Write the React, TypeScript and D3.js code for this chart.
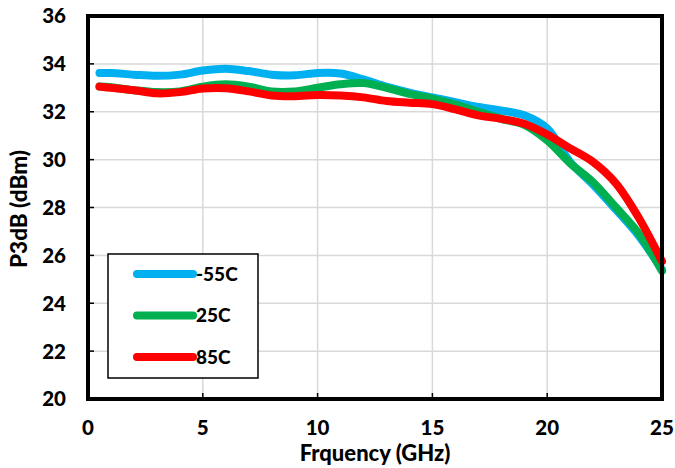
import React from "react";
import * as d3 from "d3";

const freqs = [0.5, 1, 2, 3, 4, 5, 6, 7, 8, 9, 10, 11, 12, 13, 14, 15, 16, 17, 18, 19, 20, 21, 22, 23, 24, 25];
const m55 = [33.62, 33.62, 33.55, 33.5, 33.55, 33.72, 33.8, 33.7, 33.55, 33.52, 33.62, 33.6, 33.35, 33.05, 32.8, 32.6, 32.4, 32.2, 32.05, 31.85, 31.3, 29.9, 28.95, 27.9, 26.8, 25.4];
const p25 = [33.05, 33.02, 32.9, 32.82, 32.85, 33.05, 33.15, 33.05, 32.85, 32.85, 33.0, 33.15, 33.2, 33.0, 32.75, 32.55, 32.3, 32.0, 31.7, 31.45, 30.8, 29.85, 29.05, 28.0, 26.9, 25.35];
const p85 = [33.05, 33.0, 32.9, 32.77, 32.82, 32.97, 32.98, 32.85, 32.68, 32.65, 32.7, 32.68, 32.6, 32.45, 32.38, 32.32, 32.1, 31.85, 31.7, 31.5, 31.05, 30.47, 29.9, 29.0, 27.55, 25.75];
const seriesNames = ["-55C", "25C", "85C"];
const seriesColors = ["#00B0F0", "#00B050", "#FF0000"];
const xTicks = [0, 5, 10, 15, 20, 25];
const yTicks = [20, 22, 24, 26, 28, 30, 32, 34, 36];

export default function App() {
  const W = 675, H = 468;
  const L = 88, R = 662, T = 16, B = 399;
  const x = d3.scaleLinear().domain([0, 25]).range([L, R]);
  const y = d3.scaleLinear().domain([20, 36]).range([B, T]);
  const line = d3.line<[number, number]>().x(d => x(d[0])).y(d => y(d[1])).curve(d3.curveCatmullRom.alpha(0.5));
  const all = [m55, p25, p85];
  const font = "Lato, 'Open Sans', sans-serif";
  return (
    <svg width={W} height={H} style={{ position: "absolute", left: 0, top: 0 }} fontFamily={font}>
      <rect width={W} height={H} fill="#fff" />
      {xTicks.slice(1, -1).map(t => (
        <line key={"gx" + t} x1={x(t)} x2={x(t)} y1={T} y2={B} stroke="#d9d9d9" strokeWidth={1.5} />
      ))}
      {yTicks.slice(1, -1).map(t => (
        <line key={"gy" + t} x1={L} x2={R} y1={y(t)} y2={y(t)} stroke="#d9d9d9" strokeWidth={1.5} />
      ))}
      {xTicks.map(t => (
        <line key={"tx" + t} x1={x(t)} x2={x(t)} y1={B} y2={B - 6} stroke="#000" strokeWidth={1.5} />
      ))}
      {yTicks.map(t => (
        <line key={"ty" + t} x1={L} x2={L + 6} y1={y(t)} y2={y(t)} stroke="#000" strokeWidth={1.5} />
      ))}
      {all.map((s, i) => (
        <path key={i} d={line(freqs.map((f, j) => [f, s[j]] as [number, number])) || ""} fill="none"
          stroke={seriesColors[i]} strokeWidth={8} strokeLinecap="round" strokeLinejoin="round" />
      ))}
      <rect x={L} y={T} width={R - L} height={B - T} fill="none" stroke="#000" strokeWidth={4} />
      {yTicks.map(t => (
        <text key={"ly" + t} x={66} y={y(t)} dy="0.36em" textAnchor="end" fontSize={20.5} fontWeight="900">{t}</text>
      ))}
      {xTicks.map(t => (
        <text key={"lx" + t} x={x(t)} y={428} dy="0.36em" textAnchor="middle" fontSize={20.5} fontWeight="900">{t}</text>
      ))}
      <text x={375} y={453} dy="0.36em" textAnchor="middle" fontSize={22} fontWeight="900">Frquency (GHz)</text>
      <text transform={`translate(19,209) rotate(-90)`} dy="0.36em" textAnchor="middle" fontSize={22.5} fontWeight="900">P3dB (dBm)</text>
      <rect x={108} y={254} width={150} height={124} fill="#fff" stroke="#000" strokeWidth={1.5} />
      {seriesNames.map((n, i) => (
        <g key={n}>
          <line x1={137} x2={193} y1={274 + i * 41.5} y2={274 + i * 41.5} stroke={seriesColors[i]} strokeWidth={8} strokeLinecap="round" />
          <text x={196} y={274 + i * 41.5} dy="0.36em" fontSize={19} fontWeight="900">{n}</text>
        </g>
      ))}
    </svg>
  );
}
